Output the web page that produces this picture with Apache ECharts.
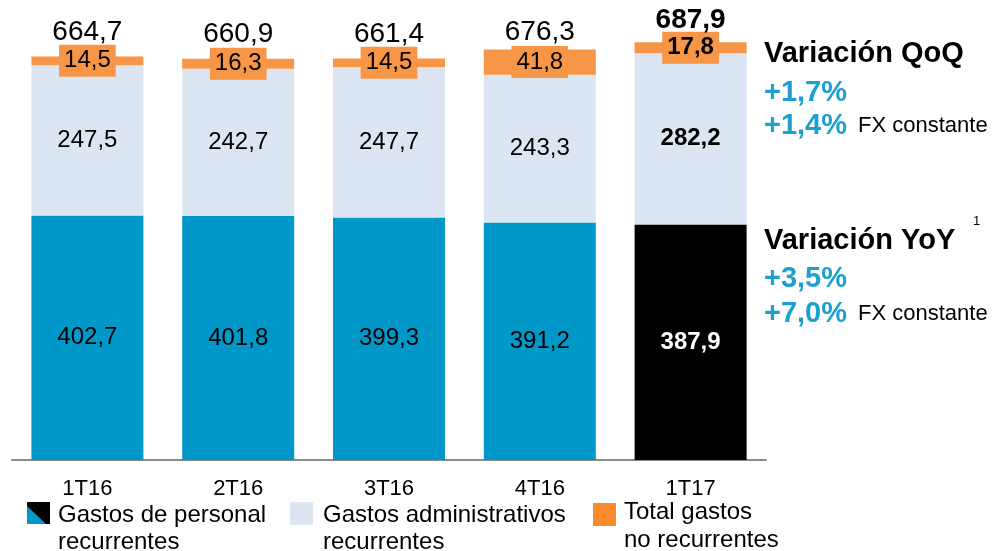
<!DOCTYPE html>
<html>
<head>
<meta charset="utf-8">
<script src="https://cdn.jsdelivr.net/npm/echarts@6/dist/echarts.min.js"></script>
<style>
  html, body { margin: 0; padding: 0; background: #fff; }
  #chart { width: 992px; height: 551px; }
</style>
</head>
<body>
<div id="chart"></div>
<script>
var categories = ["1T16", "2T16", "3T16", "4T16", "1T17"];
var personal = [402.7, 401.8, 399.3, 391.2, 387.9]; // Gastos de personal recurrentes
var admin = [247.5, 242.7, 247.7, 243.3, 282.2]; // Gastos administrativos recurrentes
var noRecurrentes = [14.5, 16.3, 14.5, 41.8, 17.8]; // Total gastos no recurrentes
var totals = [664.7, 660.9, 661.4, 676.3, 687.9];

var FONT = "'Liberation Sans', Arial, sans-serif";
var blue = "#0098C8";
var light = "#DCE6F2";
var orange = "#F79646";
var pctBlue = "#1BA0D0";

function fmt(v) {
  return v.toFixed(1).replace(".", ",");
}

// el ultimo trimestre va resaltado (negrita, barra negra)
function items(arr, extra) {
  return arr.map(function(v, i) {
    if (i === arr.length - 1) return Object.assign({ value: v }, extra);
    return v;
  });
}

var totalData = items(totals, { label: { fontWeight: "bold", distance: 8 } });
// la etiqueta de 4T16 va mas pegada a la barra
totalData[3] = { value: totals[3], label: { distance: 3 } };

var myChart = echarts.init(document.getElementById("chart"));

var option = {
  animation: false,
  textStyle: { fontFamily: FONT },
  grid: { left: 12, right: 226, top: 35, bottom: 91 },
  xAxis: {
    type: "category",
    data: categories,
    axisLine: { lineStyle: { color: "#8a8a8a", width: 2 } },
    axisTick: { show: false },
    axisLabel: { color: "#000", fontSize: 22, margin: 18, fontFamily: FONT }
  },
  yAxis: { type: "value", min: 0, max: 700, show: false },
  series: [
    {
      name: "Gastos de personal recurrentes",
      type: "bar",
      stack: "g",
      barWidth: 112,
      itemStyle: { color: blue },
      label: {
        show: true,
        position: "inside",
        color: "#000",
        fontSize: 24,
        fontFamily: FONT,
        formatter: function(p) { return fmt(p.value); }
      },
      data: items(personal, {
        itemStyle: { color: "#000" },
        label: { color: "#fff", fontWeight: "bold" }
      })
    },
    {
      name: "Gastos administrativos recurrentes",
      type: "bar",
      stack: "g",
      itemStyle: { color: light },
      label: {
        show: true,
        position: "inside",
        color: "#000",
        fontSize: 24,
        fontFamily: FONT,
        formatter: function(p) { return fmt(p.value); }
      },
      data: items(admin, { label: { fontWeight: "bold" } })
    },
    {
      name: "Total gastos no recurrentes",
      type: "bar",
      stack: "g",
      itemStyle: { color: orange },
      label: {
        show: true,
        position: "inside",
        color: "#000",
        fontSize: 24,
        fontFamily: FONT,
        backgroundColor: orange,
        padding: [4, 5],
        formatter: function(p) { return fmt(p.value); }
      },
      data: items(noRecurrentes, { label: { fontWeight: "bold" } })
    },
    {
      name: "total",
      type: "scatter",
      symbolSize: 0,
      silent: true,
      z: 5,
      itemStyle: { opacity: 1 },
      label: {
        show: true,
        position: "top",
        distance: 10,
        color: "#000",
        fontSize: 28,
        fontFamily: FONT,
        formatter: function(p) { return fmt(p.value); }
      },
      data: totalData
    }
  ],
  graphic: [
    // anotaciones a la derecha
    { type: "text", left: 764, top: 39, style: { text: "Variación QoQ", font: "bold 29px " + FONT, fill: "#000" } },
    { type: "text", left: 764, top: 78, style: { text: "+1,7%", font: "bold 29px " + FONT, fill: pctBlue } },
    { type: "text", left: 764, top: 111, style: { text: "+1,4%", font: "bold 29px " + FONT, fill: pctBlue } },
    { type: "text", left: 858, top: 115, style: { text: "FX constante", font: "22px " + FONT, fill: "#000" } },
    { type: "text", left: 764, top: 226, style: { text: "Variación YoY", font: "bold 29px " + FONT, fill: "#000" } },
    { type: "text", left: 973, top: 215, style: { text: "1", font: "13px " + FONT, fill: "#000" } },
    { type: "text", left: 764, top: 264, style: { text: "+3,5%", font: "bold 29px " + FONT, fill: pctBlue } },
    { type: "text", left: 764, top: 299, style: { text: "+7,0%", font: "bold 29px " + FONT, fill: pctBlue } },
    { type: "text", left: 858, top: 303, style: { text: "FX constante", font: "22px " + FONT, fill: "#000" } },
    // leyenda
    { type: "rect", shape: { x: 27, y: 502, width: 23, height: 22 }, style: { fill: "#000" } },
    { type: "polygon", shape: { points: [[27, 506], [27, 524], [46, 524]] }, style: { fill: blue } },
    { type: "text", left: 58, top: 502, style: { text: "Gastos de personal\nrecurrentes", font: "24px " + FONT, lineHeight: 27, fill: "#000" } },
    { type: "rect", shape: { x: 290, y: 502, width: 23, height: 23 }, style: { fill: light } },
    { type: "text", left: 323, top: 502, style: { text: "Gastos administrativos\nrecurrentes", font: "24px " + FONT, lineHeight: 27, fill: "#000" } },
    { type: "rect", shape: { x: 593, y: 503, width: 23, height: 23 }, style: { fill: "#FB8B2C" } },
    { type: "text", left: 624, top: 498, style: { text: "Total gastos\nno recurrentes", font: "24px " + FONT, lineHeight: 28, fill: "#000" } }
  ]
};

myChart.setOption(option);
</script>
</body>
</html>
